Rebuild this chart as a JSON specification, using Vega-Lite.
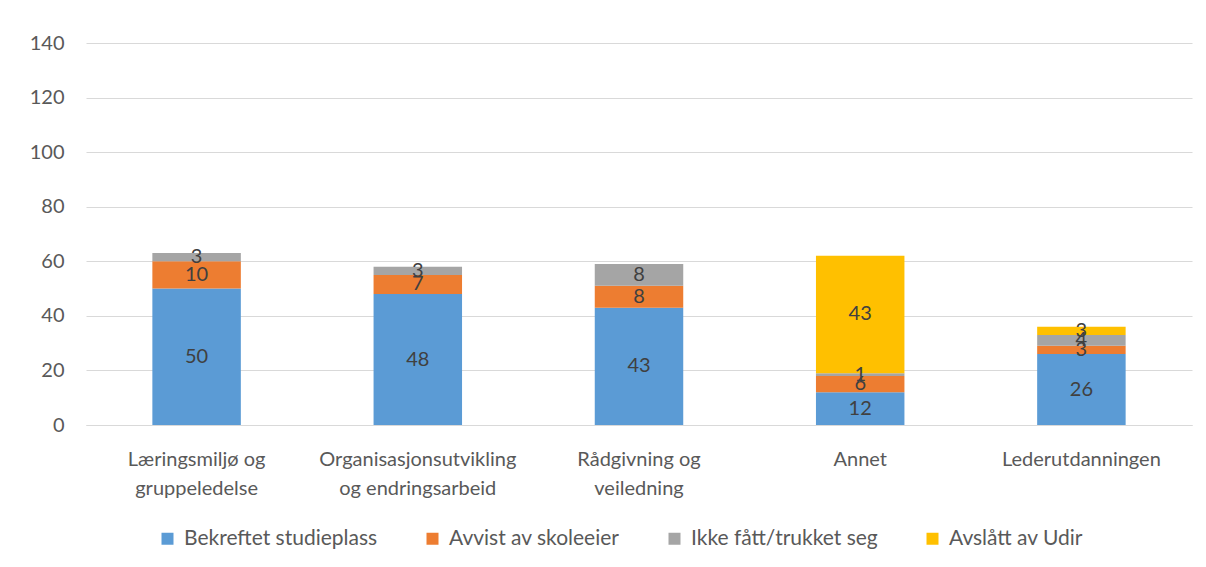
{
  "$schema": "https://vega.github.io/schema/vega-lite/v6.json",
  "width": 1106,
  "height": 382,
  "autosize": {"type": "none"},
  "padding": {"left": 86, "top": 43, "right": 14, "bottom": 142},
  "background": "white",
  "config": {
    "font": "Lato",
    "view": {"stroke": null},
    "axis": {"labelFont": "Lato", "labelColor": "#595959", "labelFontSize": 20, "gridColor": "#d9d9d9", "ticks": false, "domain": false}
  },
  "data": {
    "values": [
      {"cat": "Læringsmiljø og gruppeledelse", "series": "Bekreftet studieplass", "value": 50},
      {"cat": "Læringsmiljø og gruppeledelse", "series": "Avvist av skoleeier", "value": 10},
      {"cat": "Læringsmiljø og gruppeledelse", "series": "Ikke fått/trukket seg", "value": 3},
      {"cat": "Organisasjonsutvikling og endringsarbeid", "series": "Bekreftet studieplass", "value": 48},
      {"cat": "Organisasjonsutvikling og endringsarbeid", "series": "Avvist av skoleeier", "value": 7},
      {"cat": "Organisasjonsutvikling og endringsarbeid", "series": "Ikke fått/trukket seg", "value": 3},
      {"cat": "Rådgivning og veiledning", "series": "Bekreftet studieplass", "value": 43},
      {"cat": "Rådgivning og veiledning", "series": "Avvist av skoleeier", "value": 8},
      {"cat": "Rådgivning og veiledning", "series": "Ikke fått/trukket seg", "value": 8},
      {"cat": "Annet", "series": "Bekreftet studieplass", "value": 12},
      {"cat": "Annet", "series": "Avvist av skoleeier", "value": 6},
      {"cat": "Annet", "series": "Ikke fått/trukket seg", "value": 1},
      {"cat": "Annet", "series": "Avslått av Udir", "value": 43},
      {"cat": "Lederutdanningen", "series": "Bekreftet studieplass", "value": 26},
      {"cat": "Lederutdanningen", "series": "Avvist av skoleeier", "value": 3},
      {"cat": "Lederutdanningen", "series": "Ikke fått/trukket seg", "value": 4},
      {"cat": "Lederutdanningen", "series": "Avslått av Udir", "value": 3}
    ]
  },
  "transform": [
    {"calculate": "indexof(['Bekreftet studieplass','Avvist av skoleeier','Ikke fått/trukket seg','Avslått av Udir'], datum.series)", "as": "ord"},
    {"stack": "value", "groupby": ["cat"], "sort": [{"field": "ord", "order": "ascending"}], "as": ["v0", "v1"]},
    {"calculate": "(datum.v0 + datum.v1) / 2", "as": "mid"}
  ],
  "encoding": {
    "x": {
      "field": "cat", "type": "nominal", "sort": null,
      "scale": {"paddingInner": 0.6, "paddingOuter": 0.3},
      "axis": {
        "title": null, "labelAngle": 0, "grid": false, "domain": true, "domainColor": "#d9d9d9",
        "labelPadding": 34, "labelLineHeight": 29, "labelBaseline": "middle", "labelLimit": 400,
        "labelExpr": "datum.label == 'Læringsmiljø og gruppeledelse' ? ['Læringsmiljø og', 'gruppeledelse'] : datum.label == 'Organisasjonsutvikling og endringsarbeid' ? ['Organisasjonsutvikling', 'og endringsarbeid'] : datum.label == 'Rådgivning og veiledning' ? ['Rådgivning og', 'veiledning'] : datum.label"
      }
    }
  },
  "layer": [
    {
      "mark": {"type": "bar"},
      "encoding": {
        "y": {"field": "v0", "type": "quantitative", "scale": {"domain": [0, 140], "nice": false},
          "axis": {"title": null, "values": [0, 20, 40, 60, 80, 100, 120, 140], "labelPadding": 22, "grid": true}},
        "y2": {"field": "v1"},
        "color": {
          "field": "series", "type": "nominal",
          "scale": {"domain": ["Bekreftet studieplass", "Avvist av skoleeier", "Ikke fått/trukket seg", "Avslått av Udir"],
                    "range": ["#5B9BD5", "#ED7D31", "#A5A5A5", "#FFC000"]},
          "legend": {
            "title": null, "orient": "none", "direction": "horizontal", "legendX": 71, "legendY": 485,
            "symbolType": "square", "symbolSize": 144, "symbolStrokeWidth": 0, "symbolOpacity": 1,
            "labelFontSize": 21, "labelColor": "#595959", "labelFont": "Lato", "labelOffset": 6, "columnPadding": 44, "labelLimit": 400
          }
        }
      }
    },
    {
      "mark": {"type": "text", "fontSize": 20, "color": "#404040", "baseline": "middle", "font": "Lato"},
      "encoding": {
        "y": {"field": "mid", "type": "quantitative"},
        "text": {"field": "value", "type": "quantitative"}
      }
    }
  ]
}
